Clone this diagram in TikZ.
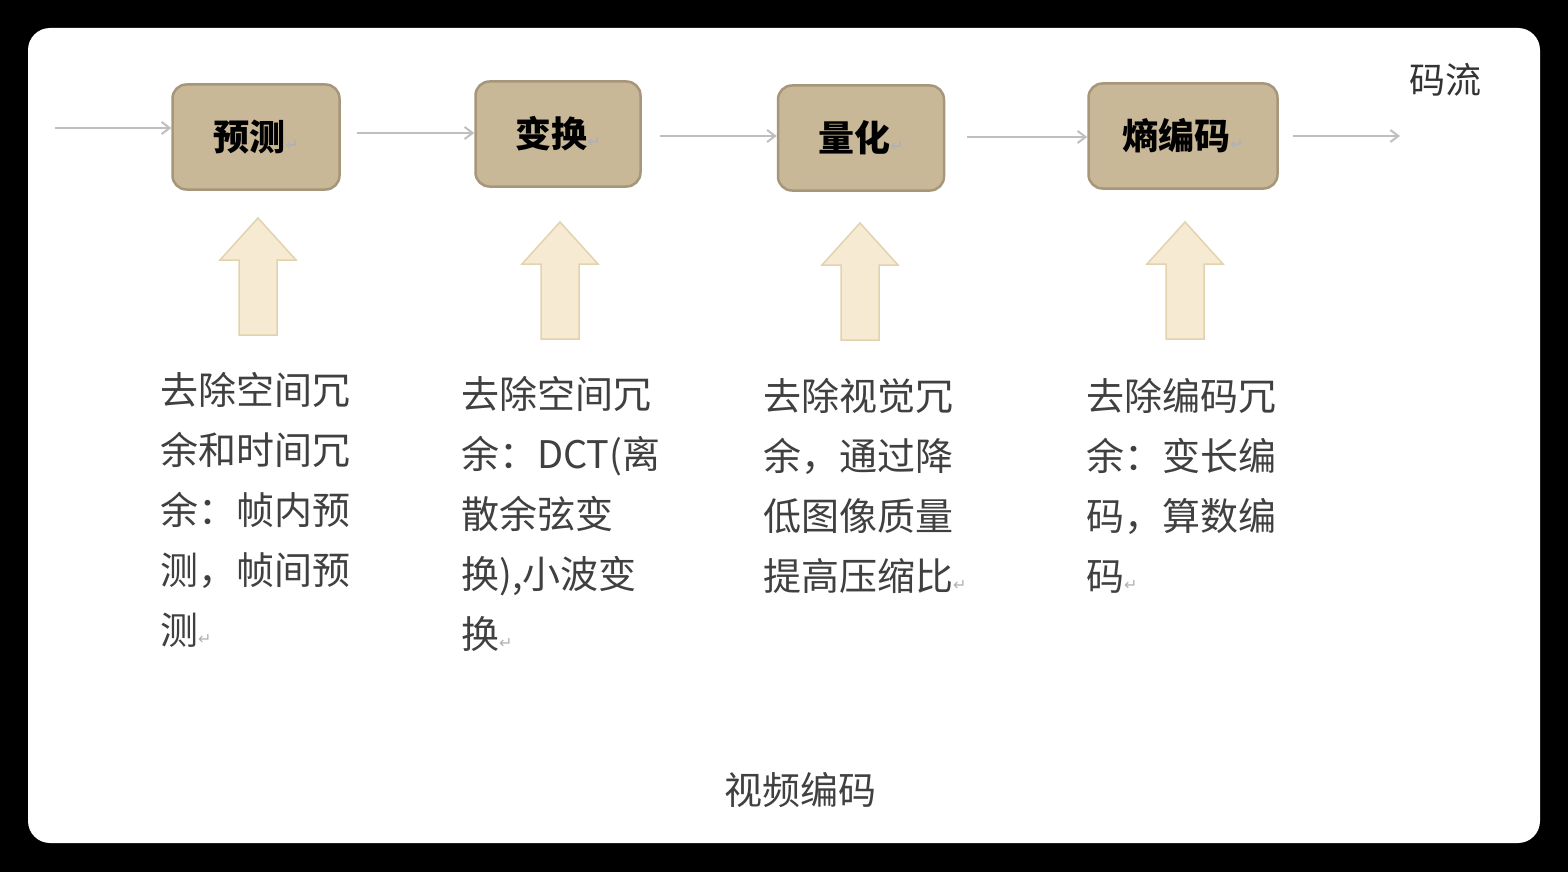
\documentclass[tikz,border=0pt]{standalone}
\usepackage{fontspec}
\setmainfont{Noto Sans CJK SC}
\newfontfamily\dejavu{DejaVu Sans}
\usetikzlibrary{arrows.meta}
\definecolor{boxfill}{HTML}{C9B898}
\definecolor{boxdraw}{HTML}{A6967A}
\definecolor{upfill}{HTML}{F6EBD2}
\definecolor{updraw}{HTML}{E2D2AE}
\newcommand{\rt}{{\dejavu\fontsize{16pt}{16pt}\selectfont\color{gray!60}↵}}
\begin{document}
\begin{tikzpicture}[x=1pt,y=-1pt,
  stage/.style={draw=boxdraw,line width=2.5pt,fill=boxfill,rounded corners=14pt,minimum height=105pt,font=\fontsize{36pt}{36pt}\selectfont\bfseries},
  flow/.style={draw=gray!50,line width=2pt,-{Straight Barb[length=8pt,width=12pt]}},
  desc/.style={anchor=north west,align=left,text=black!75,font=\fontsize{38pt}{60pt}\selectfont,inner sep=0pt},
  up/.style={draw=updraw,line width=1.5pt,fill=upfill}]
\fill[black] (0,0) rectangle (1568,872);
\fill[white,rounded corners=22pt] (28,28) rectangle (1540,843);
\node[stage,minimum width=167pt] (s1) at (256,137) {预测\rt};
\node[stage,minimum width=165pt] (s2) at (558,134) {变换\rt};
\node[stage,minimum width=166pt] (s3) at (861,138) {量化\rt};
\node[stage,minimum width=189pt] (s4) at (1183,136) {熵编码\rt};
\coordinate (in) at (55,128);
\coordinate (out) at (1400,136);
\node[font=\fontsize{36pt}{36pt}\selectfont,text=black!80] (ms) at (1445,80) {码流};
\draw[flow] (in) -- (s1.west|-in);
\draw[flow] (s1.east|-s1) ++(16,-4) coordinate (a1) -- (s2.west|-a1);
\draw[flow] (s2.east) ++(18,2) coordinate (a2) -- (s3.west|-a2);
\draw[flow] (s3.east) ++(22,-1) coordinate (a3) -- (s4.west|-a3);
\draw[flow] (s4.east) ++(14,0) coordinate (a4) -- (out);
\foreach \cx/\ty in {258/218,560/222,860/223,1185/222}{
  \draw[up] (\cx-19,\ty+117) -- (\cx-19,\ty+42) -- (\cx-38,\ty+42) -- (\cx,\ty) -- (\cx+38,\ty+42) -- (\cx+19,\ty+42) -- (\cx+19,\ty+117) -- cycle;
}
\node[desc] (d1) at (160,372) {去除空间冗\\余和时间冗\\余：帧内预\\测，帧间预\\测\rt};
\node[desc] (d2) at (461,376) {去除空间冗\\余：DCT(离\\散余弦变\\换),小波变\\换\rt};
\node[desc] (d3) at (763,378) {去除视觉冗\\余，通过降\\低图像质量\\提高压缩比\rt};
\node[desc] (d4) at (1086,378) {去除编码冗\\余：变长编\\码，算数编\\码\rt};
\node[font=\fontsize{38pt}{38pt}\selectfont,text=black!75] (t) at (800,790) {视频编码};
\end{tikzpicture}
\end{document}
